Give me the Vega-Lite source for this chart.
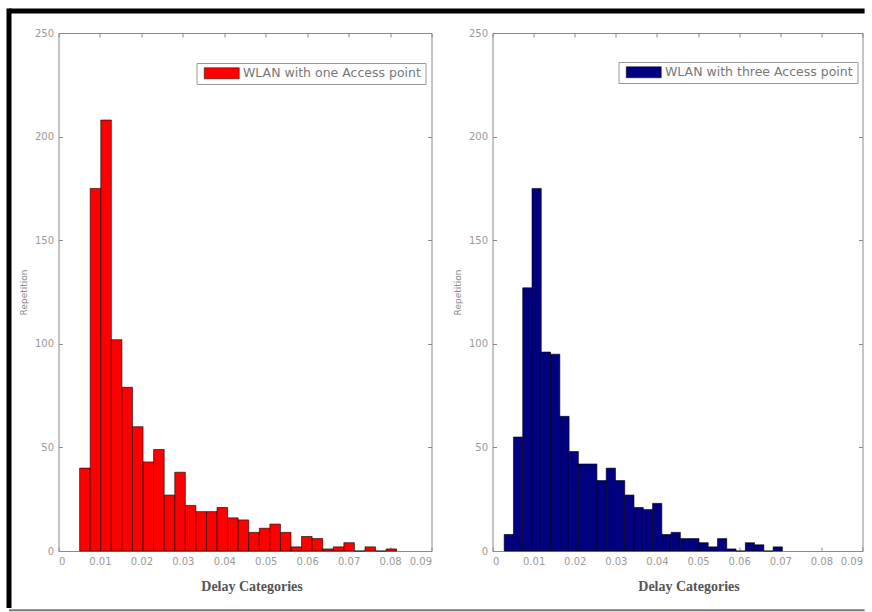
{
  "$schema": "https://vega.github.io/schema/vega-lite/v6.json",
  "autosize": {"type": "pad"},
  "padding": {"left": 5.5, "top": 5, "right": 0, "bottom": 0},
  "background": "#ffffff",
  "datasets": {
    "one": [
      {"x0": 0.0051, "x1": 0.00765, "count": 40, "series": "WLAN with one Access point"},
      {"x0": 0.00765, "x1": 0.0102, "count": 175, "series": "WLAN with one Access point"},
      {"x0": 0.0102, "x1": 0.01275, "count": 208, "series": "WLAN with one Access point"},
      {"x0": 0.01275, "x1": 0.0153, "count": 102, "series": "WLAN with one Access point"},
      {"x0": 0.0153, "x1": 0.01785, "count": 79, "series": "WLAN with one Access point"},
      {"x0": 0.01785, "x1": 0.0204, "count": 60, "series": "WLAN with one Access point"},
      {"x0": 0.0204, "x1": 0.02295, "count": 43, "series": "WLAN with one Access point"},
      {"x0": 0.02295, "x1": 0.0255, "count": 49, "series": "WLAN with one Access point"},
      {"x0": 0.0255, "x1": 0.02805, "count": 27, "series": "WLAN with one Access point"},
      {"x0": 0.02805, "x1": 0.0306, "count": 38, "series": "WLAN with one Access point"},
      {"x0": 0.0306, "x1": 0.03315, "count": 22, "series": "WLAN with one Access point"},
      {"x0": 0.03315, "x1": 0.0357, "count": 19, "series": "WLAN with one Access point"},
      {"x0": 0.0357, "x1": 0.03825, "count": 19, "series": "WLAN with one Access point"},
      {"x0": 0.03825, "x1": 0.0408, "count": 21, "series": "WLAN with one Access point"},
      {"x0": 0.0408, "x1": 0.04335, "count": 16, "series": "WLAN with one Access point"},
      {"x0": 0.04335, "x1": 0.0459, "count": 15, "series": "WLAN with one Access point"},
      {"x0": 0.0459, "x1": 0.04845, "count": 9, "series": "WLAN with one Access point"},
      {"x0": 0.04845, "x1": 0.051, "count": 11, "series": "WLAN with one Access point"},
      {"x0": 0.051, "x1": 0.05355, "count": 13, "series": "WLAN with one Access point"},
      {"x0": 0.05355, "x1": 0.0561, "count": 9, "series": "WLAN with one Access point"},
      {"x0": 0.0561, "x1": 0.05865, "count": 2, "series": "WLAN with one Access point"},
      {"x0": 0.05865, "x1": 0.0612, "count": 7, "series": "WLAN with one Access point"},
      {"x0": 0.0612, "x1": 0.06375, "count": 6, "series": "WLAN with one Access point"},
      {"x0": 0.06375, "x1": 0.0663, "count": 1, "series": "WLAN with one Access point"},
      {"x0": 0.0663, "x1": 0.06885, "count": 2, "series": "WLAN with one Access point"},
      {"x0": 0.06885, "x1": 0.0714, "count": 4, "series": "WLAN with one Access point"},
      {"x0": 0.0714, "x1": 0.07395, "count": 0, "series": "WLAN with one Access point"},
      {"x0": 0.07395, "x1": 0.0765, "count": 2, "series": "WLAN with one Access point"},
      {"x0": 0.0765, "x1": 0.07905, "count": 0, "series": "WLAN with one Access point"},
      {"x0": 0.07905, "x1": 0.0816, "count": 1, "series": "WLAN with one Access point"}
    ],
    "three": [
      {"x0": 0.00284, "x1": 0.0051, "count": 8, "series": "WLAN with three Access point"},
      {"x0": 0.0051, "x1": 0.00735, "count": 55, "series": "WLAN with three Access point"},
      {"x0": 0.00735, "x1": 0.00961, "count": 127, "series": "WLAN with three Access point"},
      {"x0": 0.00961, "x1": 0.01186, "count": 175, "series": "WLAN with three Access point"},
      {"x0": 0.01186, "x1": 0.01412, "count": 96, "series": "WLAN with three Access point"},
      {"x0": 0.01412, "x1": 0.01638, "count": 95, "series": "WLAN with three Access point"},
      {"x0": 0.01638, "x1": 0.01863, "count": 65, "series": "WLAN with three Access point"},
      {"x0": 0.01863, "x1": 0.02089, "count": 48, "series": "WLAN with three Access point"},
      {"x0": 0.02089, "x1": 0.02314, "count": 42, "series": "WLAN with three Access point"},
      {"x0": 0.02314, "x1": 0.0254, "count": 42, "series": "WLAN with three Access point"},
      {"x0": 0.0254, "x1": 0.02766, "count": 34, "series": "WLAN with three Access point"},
      {"x0": 0.02766, "x1": 0.02991, "count": 40, "series": "WLAN with three Access point"},
      {"x0": 0.02991, "x1": 0.03217, "count": 34, "series": "WLAN with three Access point"},
      {"x0": 0.03217, "x1": 0.03442, "count": 27, "series": "WLAN with three Access point"},
      {"x0": 0.03442, "x1": 0.03668, "count": 21, "series": "WLAN with three Access point"},
      {"x0": 0.03668, "x1": 0.03894, "count": 20, "series": "WLAN with three Access point"},
      {"x0": 0.03894, "x1": 0.04119, "count": 23, "series": "WLAN with three Access point"},
      {"x0": 0.04119, "x1": 0.04345, "count": 8, "series": "WLAN with three Access point"},
      {"x0": 0.04345, "x1": 0.0457, "count": 9, "series": "WLAN with three Access point"},
      {"x0": 0.0457, "x1": 0.04796, "count": 6, "series": "WLAN with three Access point"},
      {"x0": 0.04796, "x1": 0.05022, "count": 6, "series": "WLAN with three Access point"},
      {"x0": 0.05022, "x1": 0.05247, "count": 4, "series": "WLAN with three Access point"},
      {"x0": 0.05247, "x1": 0.05473, "count": 2, "series": "WLAN with three Access point"},
      {"x0": 0.05473, "x1": 0.05698, "count": 6, "series": "WLAN with three Access point"},
      {"x0": 0.05698, "x1": 0.05924, "count": 1, "series": "WLAN with three Access point"},
      {"x0": 0.05924, "x1": 0.0615, "count": 0, "series": "WLAN with three Access point"},
      {"x0": 0.0615, "x1": 0.06375, "count": 4, "series": "WLAN with three Access point"},
      {"x0": 0.06375, "x1": 0.06601, "count": 3, "series": "WLAN with three Access point"},
      {"x0": 0.06601, "x1": 0.06826, "count": 0, "series": "WLAN with three Access point"},
      {"x0": 0.06826, "x1": 0.07052, "count": 2, "series": "WLAN with three Access point"}
    ]
  },
  "hconcat": [
    {
      "width": 373,
      "height": 518,
      "layer": [
        {
          "data": {"name": "one"},
          "mark": {"type": "bar", "stroke": "#000000", "strokeWidth": 0.6, "opacity": 1},
          "encoding": {
            "x": {"field": "x0", "type": "quantitative", "scale": {"domain": [0, 0.09], "nice": false, "zero": false},
              "axis": {"orient": "bottom", "values": [0, 0.01, 0.02, 0.03, 0.04, 0.05, 0.06, 0.07, 0.08, 0.09], "format": "~g", "title": "Delay Categories", "titleX": 193}},
            "x2": {"field": "x1"},
            "y": {"field": "count", "type": "quantitative", "scale": {"domain": [0, 250], "nice": false},
              "axis": {"orient": "left", "values": [0, 50, 100, 150, 200, 250], "title": "Repetition"}},
            "y2": {"datum": 0},
            "color": {"field": "series", "type": "nominal", "scale": {"range": ["#ff0000"]},
              "legend": {"orient": "none", "legendX": 138, "legendY": 30, "title": null}}
          }
        },
        {
          "data": {"values": [{}]},
          "mark": {"type": "rule", "clip": false, "color": "#000000", "strokeWidth": 5},
          "encoding": {
            "x": {"datum": -0.011944, "type": "quantitative", "axis": {"orient": "top", "values": [0, 0.01, 0.02, 0.03, 0.04, 0.05, 0.06, 0.07, 0.08, 0.09], "labels": false, "title": null}},
            "x2": {"datum": 0.1945},
            "y": {"datum": 260.6, "type": "quantitative", "axis": {"orient": "right", "values": [0, 50, 100, 150, 200, 250], "labels": false, "title": null}}
          }
        },
        {
          "data": {"values": [{}]},
          "mark": {"type": "rule", "clip": false, "color": "#000000", "strokeWidth": 5},
          "encoding": {
            "x": {"datum": -0.011944, "type": "quantitative", "axis": null},
            "y": {"datum": 261.8, "type": "quantitative", "axis": null},
            "y2": {"datum": -27.5}
          }
        },
        {
          "data": {"values": [{}]},
          "mark": {"type": "rule", "clip": false, "color": "#777777", "strokeWidth": 2},
          "encoding": {
            "x": {"datum": -0.011944, "type": "quantitative", "axis": null},
            "x2": {"datum": 0.1945},
            "y": {"datum": -28.6, "type": "quantitative", "axis": null}
          }
        }
      ],
      "resolve": {"axis": {"x": "independent", "y": "independent"}}
    },
    {
      "width": 370,
      "height": 518,
      "layer": [
        {
          "data": {"name": "three"},
          "mark": {"type": "bar", "stroke": "#000000", "strokeWidth": 0.6, "opacity": 1},
          "encoding": {
            "x": {"field": "x0", "type": "quantitative", "scale": {"domain": [0, 0.09], "nice": false, "zero": false},
              "axis": {"orient": "bottom", "values": [0, 0.01, 0.02, 0.03, 0.04, 0.05, 0.06, 0.07, 0.08, 0.09], "format": "~g", "title": "Delay Categories", "titleX": 196}},
            "x2": {"field": "x1"},
            "y": {"field": "count", "type": "quantitative", "scale": {"domain": [0, 250], "nice": false},
              "axis": {"orient": "left", "values": [0, 50, 100, 150, 200, 250], "title": "Repetition"}},
            "y2": {"datum": 0},
            "color": {"field": "series", "type": "nominal", "scale": {"range": ["#000080"]},
              "legend": {"orient": "none", "legendX": 126, "legendY": 29, "title": null}}
          }
        },
        {
          "data": {"values": [{}]},
          "mark": {"type": "point", "opacity": 0},
          "encoding": {
            "x": {"datum": 0, "type": "quantitative", "axis": {"orient": "top", "values": [0, 0.01, 0.02, 0.03, 0.04, 0.05, 0.06, 0.07, 0.08, 0.09], "labels": false, "title": null}},
            "y": {"datum": 0, "type": "quantitative", "axis": {"orient": "right", "values": [0, 50, 100, 150, 200, 250], "labels": false, "title": null}}
          }
        }
      ],
      "resolve": {"axis": {"x": "independent", "y": "independent"}}
    }
  ],
  "spacing": 61,
  "bounds": "flush",
  "resolve": {"scale": {"color": "independent"}},
  "config": {
    "view": {"stroke": "#8a8a8a", "strokeWidth": 1},
    "axis": {
      "domain": false,
      "grid": false,
      "ticks": true,
      "tickColor": "#8a8a8a",
      "tickSize": -4,
      "tickWidth": 1,
      "labelFont": "DejaVu Sans",
      "labelFontSize": 10,
      "labelColor": "#999999",
      "labelPadding": 9
    },
    "axisX": {
      "titleFont": "Liberation Serif",
      "titleFontWeight": "bold",
      "titleFontSize": 14,
      "titleColor": "#555555",
      "titlePadding": 13
    },
    "axisY": {
      "titleFont": "DejaVu Sans",
      "titleFontWeight": "normal",
      "titleFontSize": 9,
      "titleColor": "#888888",
      "titlePadding": 6
    },
    "legend": {
      "symbolType": "M-3.18,-1H3.18V1H-3.18Z",
      "symbolSize": 121,
      "symbolOffset": 15,
      "symbolStrokeColor": "#000000",
      "symbolStrokeWidth": 0.5,
      "symbolOpacity": 1,
      "labelFont": "DejaVu Sans",
      "labelFontSize": 12.5,
      "labelLimit": 400,
      "labelColor": "#777777",
      "labelOffset": 15,
      "fillColor": "#ffffff",
      "strokeColor": "#999999",
      "padding": 4
    }
  }
}
